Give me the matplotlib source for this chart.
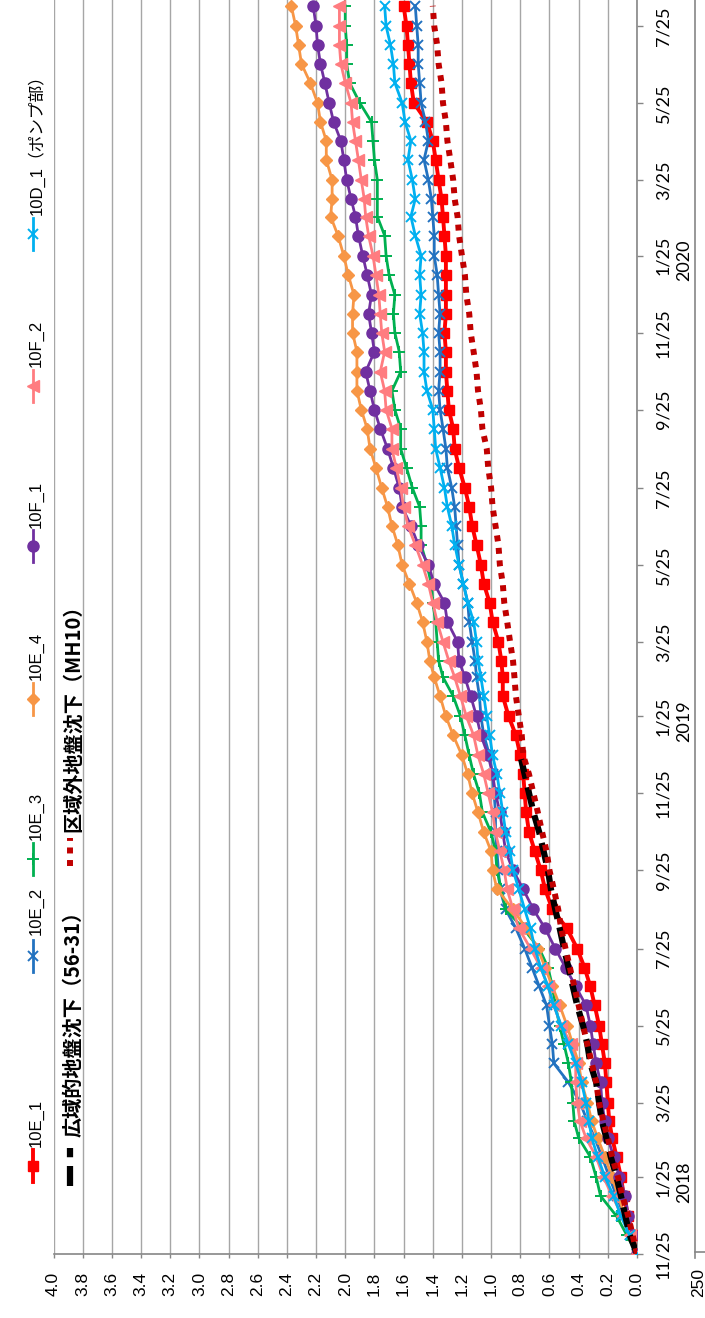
import datetime as dt
import numpy as np
import matplotlib
matplotlib.use("Agg")
import matplotlib.pyplot as plt
import matplotlib.dates as mdates
from matplotlib.lines import Line2D
from matplotlib.transforms import blended_transform_factory

W, H = 705, 1318

# readings on the 10th and 25th of each month, 2017-11-25 .. 2020-08-10
dates = []
for yr in range(2017, 2021):
    for mo in range(1, 13):
        for dd in (10, 25):
            d = dt.date(yr, mo, dd)
            if dt.date(2017, 11, 25) <= d <= dt.date(2020, 8, 10):
                dates.append(d)

e1 = [0.00, 0.03, 0.06, 0.09, 0.11, 0.14, 0.17, 0.19, 0.20, 0.21, 0.22, 0.24, 0.26, 0.29, 0.32, 0.36,
      0.41, 0.48, 0.58, 0.63, 0.66, 0.70, 0.74, 0.76, 0.77, 0.78, 0.80, 0.83, 0.88, 0.92, 0.92, 0.93,
      0.95, 0.99, 1.01, 1.05, 1.07, 1.10, 1.13, 1.15, 1.18, 1.22, 1.25, 1.26, 1.29, 1.30, 1.31, 1.31,
      1.32, 1.31, 1.31, 1.31, 1.31, 1.32, 1.33, 1.34, 1.36, 1.38, 1.40, 1.44, 1.53, 1.55, 1.56, 1.57,
      1.58, 1.60]
e2 = [0.00, 0.05, 0.09, 0.14, 0.19, 0.24, 0.29, 0.34, 0.39, 0.47, 0.57, 0.58, 0.60, 0.62, 0.67, 0.72,
      0.77, 0.83, 0.90, 0.94, 0.95, 0.96, 0.97, 0.97, 0.98, 0.99, 1.01, 1.05, 1.07, 1.08, 1.10, 1.11,
      1.13, 1.15, 1.16, 1.19, 1.22, 1.23, 1.24, 1.25, 1.27, 1.30, 1.31, 1.33, 1.35, 1.36, 1.35, 1.35,
      1.36, 1.35, 1.36, 1.37, 1.39, 1.39, 1.40, 1.41, 1.43, 1.46, 1.43, 1.45, 1.48, 1.49, 1.50, 1.50,
      1.51, 1.52]
e3 = [0.00, 0.07, 0.14, 0.25, 0.28, 0.32, 0.40, 0.43, 0.44, 0.45, 0.47, 0.50, 0.53, 0.56, 0.58, 0.61,
      0.67, 0.78, 0.90, 0.93, 0.96, 0.97, 1.00, 1.06, 1.08, 1.12, 1.15, 1.18, 1.21, 1.26, 1.33, 1.36,
      1.37, 1.38, 1.40, 1.41, 1.44, 1.48, 1.48, 1.49, 1.54, 1.58, 1.62, 1.62, 1.66, 1.68, 1.62, 1.63,
      1.66, 1.67, 1.66, 1.70, 1.72, 1.73, 1.78, 1.78, 1.78, 1.80, 1.81, 1.82, 1.90, 1.97, 1.99, 1.99,
      2.00, 2.00]
e4 = [0.00, 0.04, 0.08, 0.13, 0.17, 0.22, 0.27, 0.31, 0.34, 0.38, 0.40, 0.44, 0.48, 0.53, 0.58, 0.63,
      0.68, 0.76, 0.85, 0.96, 0.99, 1.00, 1.05, 1.09, 1.13, 1.16, 1.20, 1.26, 1.31, 1.35, 1.39, 1.42,
      1.44, 1.47, 1.51, 1.56, 1.61, 1.64, 1.68, 1.71, 1.75, 1.79, 1.83, 1.85, 1.89, 1.92, 1.92, 1.92,
      1.95, 1.95, 1.94, 1.98, 2.01, 2.05, 2.10, 2.09, 2.09, 2.13, 2.13, 2.17, 2.19, 2.24, 2.30, 2.32,
      2.34, 2.37]
f1 = [0.00, 0.03, 0.06, 0.08, 0.12, 0.16, 0.20, 0.22, 0.24, 0.25, 0.28, 0.30, 0.32, 0.35, 0.42, 0.49,
      0.56, 0.63, 0.71, 0.78, 0.85, 0.90, 0.92, 0.94, 0.97, 0.99, 1.02, 1.07, 1.10, 1.14, 1.18, 1.22,
      1.23, 1.30, 1.32, 1.39, 1.43, 1.50, 1.55, 1.61, 1.63, 1.67, 1.71, 1.76, 1.80, 1.83, 1.86, 1.80,
      1.82, 1.84, 1.82, 1.85, 1.88, 1.91, 1.93, 1.96, 1.99, 2.01, 2.03, 2.08, 2.11, 2.14, 2.17, 2.19,
      2.20, 2.22]
f2 = [0.00, 0.05, 0.10, 0.17, 0.23, 0.28, 0.35, 0.39, 0.41, 0.42, 0.42, 0.45, 0.52, 0.57, 0.61, 0.66,
      0.73, 0.81, 0.85, 0.89, 0.91, 0.94, 0.97, 0.99, 1.02, 1.05, 1.09, 1.12, 1.17, 1.21, 1.25, 1.29,
      1.33, 1.37, 1.40, 1.43, 1.47, 1.52, 1.57, 1.60, 1.62, 1.65, 1.68, 1.68, 1.72, 1.73, 1.76, 1.73,
      1.75, 1.76, 1.77, 1.79, 1.81, 1.84, 1.86, 1.87, 1.89, 1.91, 1.93, 1.95, 1.96, 2.00, 2.03, 2.04,
      2.04, 2.04]
d1 = [0.00, 0.05, 0.11, 0.16, 0.22, 0.27, 0.31, 0.33, 0.35, 0.38, 0.42, 0.47, 0.52, 0.57, 0.61, 0.66,
      0.70, 0.73, 0.77, 0.81, 0.85, 0.87, 0.90, 0.92, 0.94, 0.96, 0.99, 1.01, 1.03, 1.05, 1.07, 1.09,
      1.10, 1.12, 1.16, 1.19, 1.22, 1.25, 1.27, 1.30, 1.32, 1.35, 1.38, 1.39, 1.40, 1.44, 1.46, 1.46,
      1.47, 1.49, 1.48, 1.49, 1.48, 1.52, 1.55, 1.52, 1.54, 1.57, 1.55, 1.59, 1.61, 1.66, 1.67, 1.69,
      1.72, 1.73]
kouiki = [0.00, 0.05, 0.08, 0.11, 0.14, 0.18, 0.21, 0.24, 0.26, 0.28, 0.32, 0.34, 0.37, 0.41, 0.44,
          0.47, 0.50, 0.53, 0.56, 0.59, 0.61, 0.64, 0.67, 0.71, 0.74, 0.77, 0.80]
kuikigai = [0.00, 0.03, 0.06, 0.10, 0.13, 0.17, 0.20, 0.23, 0.26, 0.28, 0.31, 0.34, 0.37, 0.40, 0.43,
            0.46, 0.49, 0.52, 0.54, 0.57, 0.60, 0.62, 0.65, 0.68, 0.71, 0.74, 0.78, 0.79, 0.81, 0.83,
            0.84, 0.85, 0.87, 0.89, 0.91, 0.92, 0.94, 0.95, 0.97, 0.99, 1.00, 1.02, 1.03, 1.06, 1.07,
            1.09, 1.10, 1.12, 1.14, 1.15, 1.17, 1.18, 1.20, 1.22, 1.23, 1.25, 1.26, 1.28, 1.30, 1.31,
            1.33, 1.34, 1.36, 1.37, 1.39, 1.40]

tick_dates = [dt.date(2017, 11, 25)] + [dt.date(y, m, 25) for y in (2018, 2019, 2020)
                                        for m in (1, 3, 5, 7, 9, 11)][:16]
tick_labels = [f"{d.month}/{d.day}" for d in tick_dates]
years = [2018, 2019, 2020]

grid_c = "#a6a6a6"
axis_c = "#868686"

fig = plt.figure(figsize=(W / 100, H / 100), dpi=100)
ax = fig.add_axes([53.5 / W, (H - 1254) / H, (637 - 53.5) / W, 1254 / H])

series = [
    (e1, "#ff0000", dict(marker="s", ms=7.5, lw=2.8)),
    (e2, "#2272c0", dict(marker="x", ms=6.5, mew=1.4, lw=2.0)),
    (e3, "#00b050", dict(marker="+", ms=8, mew=1.4, lw=2.0)),
    (e4, "#f79646", dict(marker="D", ms=6.5, lw=2.0)),
    (f1, "#7030a0", dict(marker="o", ms=8, lw=2.0)),
    (f2, "#ff7c80", dict(marker="<", ms=8, lw=2.0)),
    (d1, "#00b0f0", dict(marker="x", ms=6.5, mew=1.4, lw=2.0)),
]
dash_k = dict(lw=4.5, ls=(0, (3.2, 1.4)), dash_capstyle="butt")
dot_r = dict(lw=4.3, ls=(0, (1, 1.1)), dash_capstyle="butt")

for i, (vals, col, st) in enumerate(series):
    ax.plot(vals, dates[:len(vals)], color=col, mfc=col, mec=col, zorder=3 + i, **st)
ax.plot(kouiki, dates[:len(kouiki)], color="black", zorder=11, **dash_k)
ax.plot(kuikigai, dates[:len(kuikigai)], color="#c00000", zorder=12, **dot_r)

t0 = mdates.date2num(dt.date(2017, 11, 25))
ax.set_ylim(t0, t0 + 993.6)
ax.set_xlim(4.0, 0.0)

xt = np.round(np.arange(0, 4.01, 0.2), 1)
ax.set_xticks(xt)
ax.set_xticklabels([f"{v:.1f}" for v in xt], rotation=90, fontsize=12.5, family="Liberation Sans")
ax.grid(axis="x", color=grid_c, lw=1.0, zorder=0)
ax.tick_params(axis="x", direction="out", length=3, color=axis_c, width=1, pad=10)

ax.yaxis.tick_right()
ax.set_yticks([mdates.date2num(d) for d in tick_dates])
ax.set_yticklabels(tick_labels, rotation=90, fontsize=13, family="Lato")
for lbl in ax.get_yticklabels():
    lbl.set_va("center")
ax.tick_params(axis="y", direction="out", length=4.3, color=axis_c, width=1, pad=9)

for s in ("left", "top"):
    ax.spines[s].set_visible(False)
for s in ("bottom", "right"):
    ax.spines[s].set_color(axis_c)
    ax.spines[s].set_linewidth(1.2)

tr = blended_transform_factory(fig.transFigure, ax.transData)
for y in years:
    ax.text(684 / W, mdates.date2num(dt.date(y, 1, 25)) - 4, str(y), transform=tr, rotation=90,
            ha="center", va="center", fontsize=13, family="Lato")

# cut-off secondary axis at the far right
fig.add_artist(Line2D([695 / W, 695 / W], [1.0, 1 - 1258 / H], color=axis_c, lw=1.2))
fig.add_artist(Line2D([695 / W, 1.0], [1 - 1252 / H, 1 - 1252 / H], color=axis_c, lw=1.2))
fig.text(699 / W, 1 - 1268 / H, "250", rotation=90, ha="center", va="top", fontsize=12.5,
         family="Liberation Sans")


def fx(px):
    return px / W


def fy(py):
    return 1 - py / H


def legend_item(xp, y0, y1, ty, label, col, st, bold=False, size=12):
    ln = Line2D([fx(xp)] * 3, [fy(y0), fy((y0 + y1) / 2), fy(y1)], color=col, mfc=col, mec=col,
                markevery=[1], **st)
    fig.add_artist(ln)
    fam = ["Noto Sans CJK JP", "DejaVu Sans"] if bold else ["Liberation Sans", "Noto Sans CJK JP"]
    fig.text(fx(xp + 3), fy(ty), label, rotation=90, ha="center", va="bottom", fontsize=size,
             fontweight="bold" if bold else "normal", family=fam)


leg_names = ["10E_1", "10E_2", "10E_3", "10E_4", "10F_1", "10F_2", "10D_1（ポンプ部）"]
leg_pos = [(1182, 1150, 1147), (972, 940, 935), (875, 843, 840), (715, 683, 680),
           (562, 530, 528), (402, 370, 367), (250, 218, 215)]
for (vals, col, st), name, (a, b, t) in zip(series, leg_names, leg_pos):
    legend_item(33, a, b, t, name, col, st)

legend_item(70, 1186, 1148, 1137, "広域的地盤沈下（56-31）", "black", dash_k, bold=True, size=14.5)
legend_item(70, 866, 838, 832, "区域外地盤沈下（MH10）", "#c00000", dot_r, bold=True, size=14.5)

fig.savefig("out.png", dpi=100)
